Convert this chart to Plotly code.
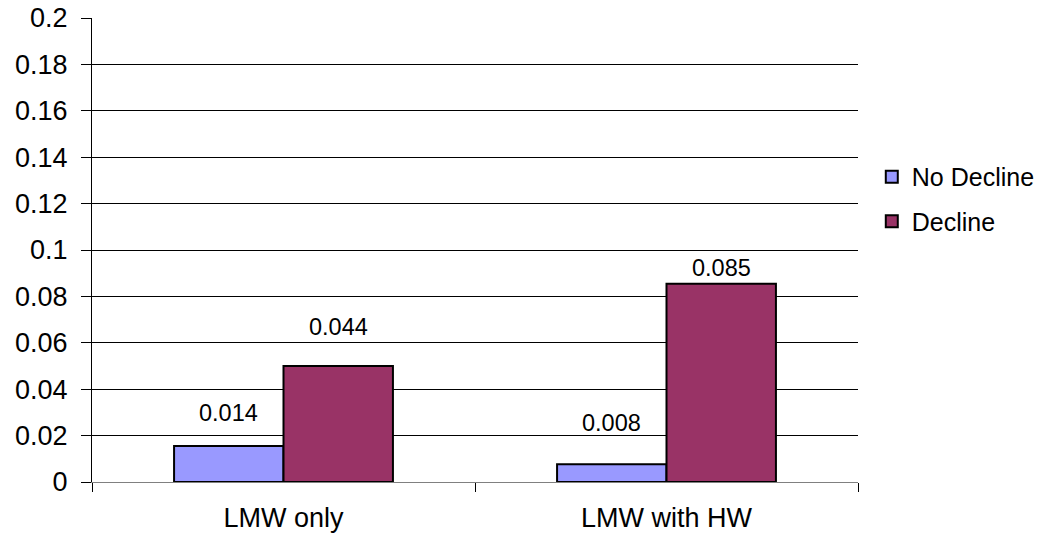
import plotly.graph_objects as go

categories = ["LMW only", "LMW with HW"]
no_decline = [0.0155, 0.0076]
decline = [0.050, 0.0854]
no_decline_labels = ["0.014", "0.008"]
decline_labels = ["0.044", "0.085"]
y_ticks = [0, 0.02, 0.04, 0.06, 0.08, 0.1, 0.12, 0.14, 0.16, 0.18, 0.2]
y_tick_text = ["0", "0.02", "0.04", "0.06", "0.08", "0.1", "0.12", "0.14", "0.16", "0.18", "0.2"]

FONT = "Liberation Sans, Arial, sans-serif"
C_NO = "#9999FF"
C_DE = "#993366"

fig = go.Figure()
fig.add_trace(go.Bar(x=categories, y=no_decline, name="No Decline", legendgroup="a",
                     marker=dict(color=C_NO, line=dict(color="black", width=2))))
fig.add_trace(go.Bar(x=categories, y=decline, name="Decline", legendgroup="b",
                     marker=dict(color=C_DE, line=dict(color="black", width=2))))

# data labels (pixel offsets above each bar, as in the reference)
shift_no = [33, 41]
shift_de = [39, 16]
half = (1 - 1.5 / 3.5) / 4
for i, c in enumerate(categories):
    fig.add_annotation(x=i - half, y=no_decline[i], text=no_decline_labels[i], showarrow=False,
                       yshift=shift_no[i], yanchor="middle", font=dict(size=23.5, color="black", family=FONT))
    fig.add_annotation(x=i + half, y=decline[i], text=decline_labels[i], showarrow=False,
                       yshift=shift_de[i], yanchor="middle", font=dict(size=23.5, color="black", family=FONT))

# the page body has an 8px margin, so the plot area is offset to compensate
fig.update_layout(
    width=1049, height=533,
    margin=dict(l=84, r=199, t=10, b=59, autoexpand=False),
    paper_bgcolor="white", plot_bgcolor="white",
    barmode="group", bargap=1.5 / 3.5, bargroupgap=0,
    font=dict(family=FONT, color="black"),
    showlegend=True,
    legend=dict(x=1.018, y=0.61, xanchor="left", yanchor="middle",
                font=dict(size=25, family=FONT, color="black"),
                tracegroupgap=9, traceorder="grouped",
                bgcolor="rgba(0,0,0,0)"),
    xaxis=dict(type="category", showgrid=False, showline=True, linecolor="#808080", linewidth=1,
               ticks="outside", tickson="boundaries", ticklen=9, tickcolor="black",
               tickfont=dict(size=27, family=FONT, color="black"), ticklabelstandoff=12,
               automargin=False, ticklabeloverflow="allow"),
    yaxis=dict(range=[0, 0.2], tickvals=y_ticks, ticktext=y_tick_text,
               showgrid=True, gridcolor="black", gridwidth=1,
               showline=True, linecolor="black", linewidth=1,
               ticks="outside", ticklen=10, tickcolor="black",
               tickfont=dict(size=27, family=FONT, color="black"), ticklabelstandoff=8,
               zeroline=False, automargin=False, ticklabeloverflow="allow"),
)

fig.write_html("out.html")
